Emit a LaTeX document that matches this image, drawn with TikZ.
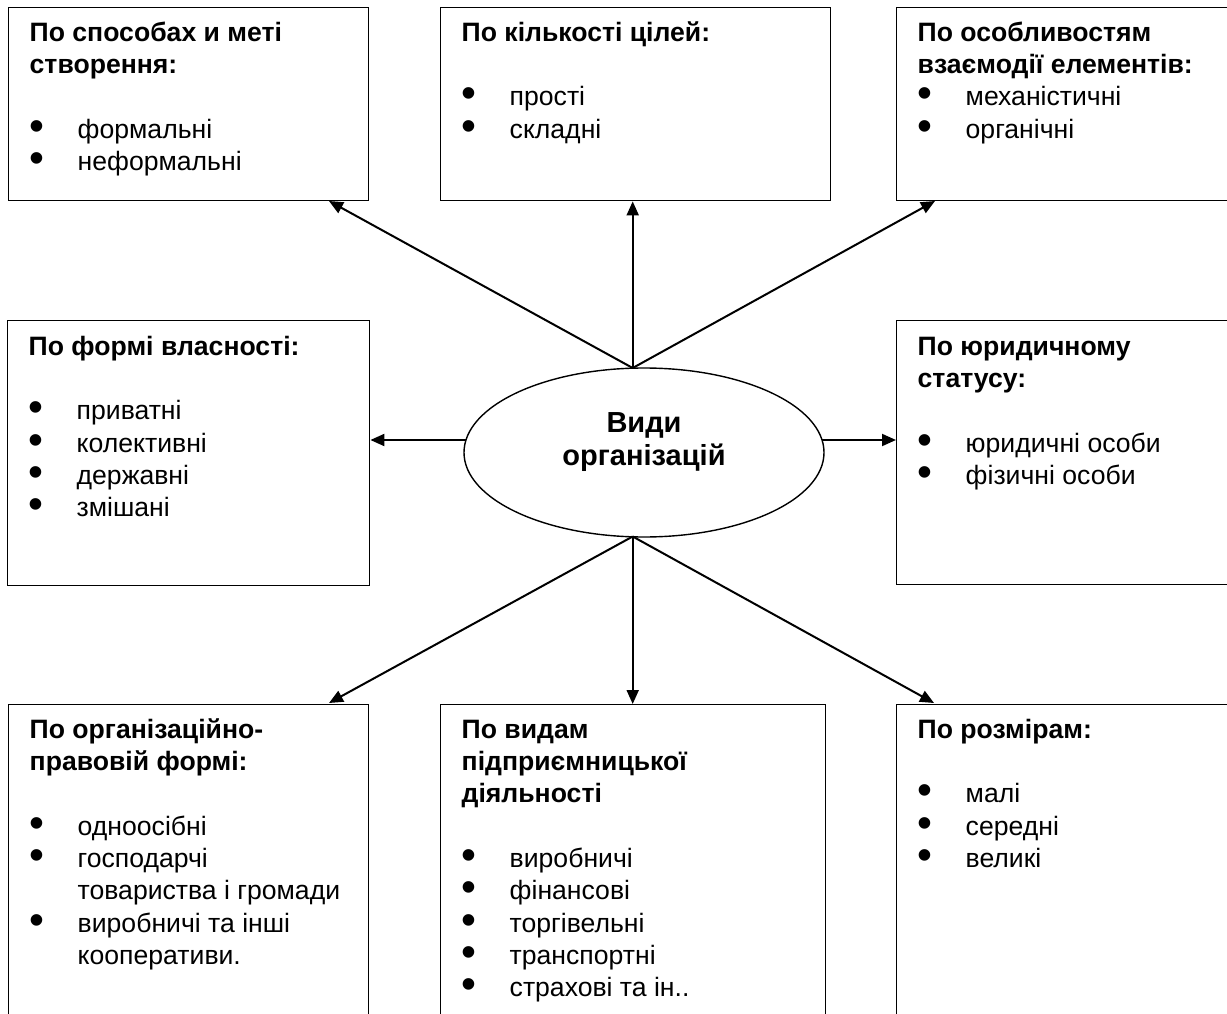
\documentclass[tikz,border=0pt]{standalone}
\usepackage{fontspec}
\setmainfont{Liberation Sans}
\usetikzlibrary{shapes.geometric,arrows.meta}
\newcommand{\itm}{\makebox[48pt][l]{\smash{\raisebox{-2pt}{\scalebox{1.6}{•}}}}}
\newcommand{\ind}{\hspace*{48pt}}
\begin{document}
\begin{tikzpicture}[x=1pt,y=-1pt,
  box/.style={draw, line width=1.4pt, rectangle, inner sep=0pt, anchor=north west},
  txt/.style={anchor=north west, inner sep=0pt, align=left, font=\fontsize{26.6}{32.3}\selectfont},
  arr/.style={line width=2pt, -{Triangle[length=14pt,width=12pt]}}]
\useasboundingbox (0,0) rectangle (1227,1014);
\clip (0,0) rectangle (1227,1014);
\fill[white] (0,0) rectangle (1227,1014);

% boxes
\node[box, minimum width=360pt, minimum height=193pt] (b1) at (8,7) {};
\node[box, minimum width=390pt, minimum height=193pt] (b2) at (440,7) {};
\node[box, minimum width=350pt, minimum height=193pt] (b3) at (896,7) {};
\node[box, minimum width=362pt, minimum height=265pt] (b4) at (7,320) {};
\node[box, minimum width=350pt, minimum height=264pt] (b5) at (896,320) {};
\node[box, minimum width=360pt, minimum height=340pt] (b6) at (8,704) {};
\node[box, minimum width=385pt, minimum height=340pt] (b7) at (440,704) {};
\node[box, minimum width=350pt, minimum height=340pt] (b8) at (896,704) {};

% texts
\node[txt] (b1t) at (29.5,18.4) {\strut\textbf{По способах и меті}\\ \textbf{створення:}\\ \mbox{}\\ \itm формальні\\ \itm неформальні};
\node[txt] (b2t) at (461.5,18.4) {\strut\textbf{По кількості цілей:}\\ \mbox{}\\ \itm прості\\ \itm складні};
\node[txt] (b3t) at (917.5,18.4) {\strut\textbf{По особливостям}\\ \textbf{взаємодії елементів:}\\ \itm механістичні\\ \itm органічні};
\node[txt] (b4t) at (28.5,332.4) {\strut\textbf{По формі власності:}\\ \mbox{}\\ \itm приватні\\ \itm колективні\\ \itm державні\\ \itm змішані};
\node[txt] (b5t) at (917.5,332.4) {\strut\textbf{По юридичному}\\ \textbf{статусу:}\\ \mbox{}\\ \itm юридичні особи\\ \itm фізичні особи};
\node[txt] (b6t) at (29.5,715.4) {\strut\textbf{По організаційно-}\\ \textbf{правовій формі:}\\ \mbox{}\\ \itm одноосібні\\ \itm господарчі\\ \ind товариства і громади\\ \itm виробничі та інші\\ \ind кооперативи.};
\node[txt] (b7t) at (461.5,715.4) {\strut\textbf{По видам}\\ \textbf{підприємницької}\\ \textbf{діяльності}\\ \mbox{}\\ \itm виробничі\\ \itm фінансові\\ \itm торгівельні\\ \itm транспортні\\ \itm страхові та ін..};
\node[txt] (b8t) at (917.5,715.4) {\strut\textbf{По розмірам:}\\ \mbox{}\\ \itm малі\\ \itm середні\\ \itm великі};

% central ellipse
\node[draw, ellipse, line width=1.4pt, minimum width=360pt, minimum height=169pt, inner sep=0pt] (e) at (644,452.5) {};
\node[font=\bfseries\fontsize{29}{33.5}\selectfont, align=center, inner sep=0pt, anchor=north] (et) at (644,408.5) {\strut Види\\ організацій};

% connectors
\coordinate (ct) at (632.7,368);
\coordinate (cb) at (632.7,536.5);
\coordinate (t1) at (329,201);
\coordinate (t3) at (935,201);
\coordinate (t6) at (329,703);
\coordinate (t8) at (934,703);
\coordinate (hl) at (466,440);
\coordinate (hr) at (822,440);
\draw[arr] (ct) -- (t1);
\draw[arr] (ct) -- (ct |- b2.south);
\draw[arr] (ct) -- (t3);
\draw[arr] (cb) -- (t6);
\draw[arr] (cb) -- (cb |- b7.north);
\draw[arr] (cb) -- (t8);
\draw[arr] (hl) -- (hl -| b4.east);
\draw[arr] (hr) -- (hr -| b5.west);
\end{tikzpicture}
\end{document}
